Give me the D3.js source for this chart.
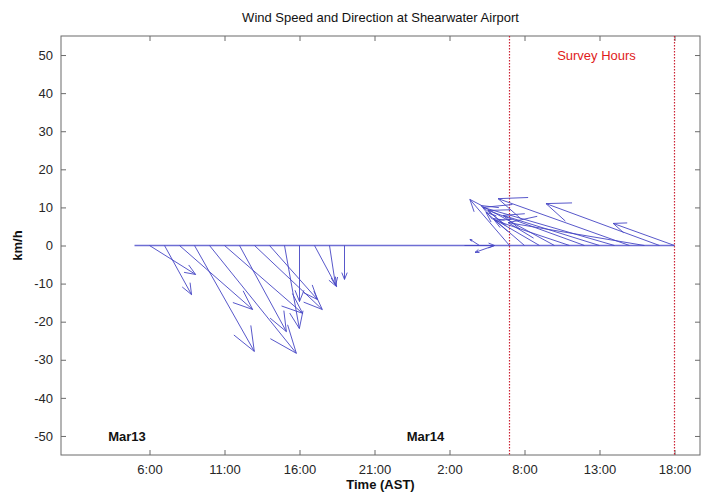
<!DOCTYPE html>
<html><head><meta charset="utf-8">
<script src="https://cdn.jsdelivr.net/npm/d3@7/dist/d3.min.js"></script>
<style>
body{margin:0;background:#fff}
svg{display:block}
text{font-family:"Liberation Sans",Arial,Helvetica,sans-serif}
</style>
</head><body>
<svg id="chart" width="706" height="494"></svg>
<script>
// ---- data (hours since Mar13 00:00; wind vector components in km/h) ----
const hours   = [5,6,7,8,9,10,11,12,13,14,15,16,17,18,19,20,21,22,23,24,25,26,27,28,29,30,31,32,33,34,35,36,37,38,39,40,41];
const uValues = [0,12.1,7.1,19.2,15.7,22.8,20.5,12.3,17.8,12.6,3.9,0,5.8,1.6,0,0,0,0,0,0,0,0,7.9,-2.5,-5.1,-10.4,-10.1,-12.2,-19.3,-19.6,-25.3,-25.3,-34.5,-34.5,-35.8,-29.8,-16.1];
const vValues = [0,-7.6,-12.9,-16.8,-27.8,-28.3,-17.8,-22.6,-16.8,-14.2,-21.8,-14.7,-10.8,-10.5,-8.9,0,0,0,0,0,0,0,0,1.6,-1.8,12.1,8.7,7.1,10.5,6.6,9.2,7.9,10.0,12.3,6.0,11.0,5.8];
const tickHours  = [6,11,16,21,26,31,36,41];
const tickLabels = ["6:00","11:00","16:00","21:00","2:00","8:00","13:00","18:00"];
const yTicks = [50,40,30,20,10,0,-10,-20,-30,-40,-50];
const surveyHours = [30,41];
const dayLabels = ["Mar13","Mar14"];
const dayLabelHours = [4.5,24.4];

// ---- layout ----
const L=61,R=700,T=36,B=455;
const svg=d3.select("#chart");
const x=d3.scaleLinear().domain([0.1,42.7]).range([L,R]);
const y=d3.scaleLinear().domain([-55,55]).range([B,T]);
const k=y(0)-y(1); // px per km/h (equal aspect for vectors)

// frame
svg.append("rect").attr("x",L).attr("y",T).attr("width",R-L).attr("height",B-T)
  .attr("fill","none").attr("stroke","#6b6b6b").attr("stroke-width",1);

// axes (ticks inward)
const axB=svg.append("g").attr("transform",`translate(0,${B})`)
  .call(d3.axisBottom(x).tickValues(tickHours).tickFormat((d,i)=>tickLabels[i]).tickSizeInner(-5).tickSizeOuter(0).tickPadding(10));
const axT=svg.append("g").attr("transform",`translate(0,${T})`)
  .call(d3.axisTop(x).tickValues(tickHours).tickFormat("").tickSizeInner(-5).tickSizeOuter(0));
const axLft=svg.append("g").attr("transform",`translate(${L},0)`)
  .call(d3.axisLeft(y).tickValues(yTicks).tickFormat(d=>String(d)).tickSizeInner(-5).tickSizeOuter(0).tickPadding(8));
const axRt=svg.append("g").attr("transform",`translate(${R},0)`)
  .call(d3.axisRight(y).tickValues(yTicks).tickFormat("").tickSizeInner(-5).tickSizeOuter(0));
[axB,axT,axLft,axRt].forEach(a=>{
  a.select(".domain").remove();
  a.selectAll(".tick line").attr("stroke","#6b6b6b");
  a.selectAll(".tick text").attr("fill","#262626").style("font-size","13px").style("font-family","'Liberation Sans',Arial,sans-serif");
});

// survey hour lines
svg.append("g").selectAll("line").data(surveyHours).join("line")
  .attr("x1",d=>x(d)).attr("x2",d=>x(d)).attr("y1",T).attr("y2",B)
  .attr("stroke","#cc2233").attr("stroke-width",1.2).attr("stroke-dasharray","1.5,1.5");
svg.append("text").attr("x",x(35.8)).attr("y",y(50)+5).attr("text-anchor","middle")
  .attr("fill","#e01b1b").style("font-size","13px").text("Survey Hours");

// baseline
const col="#4646c4";
svg.append("line").attr("x1",x(hours[0])).attr("x2",x(hours[hours.length-1]))
  .attr("y1",y(0)).attr("y2",y(0)).attr("stroke","#6e6ed4").attr("stroke-width",1.6);

// feather arrows (MATLAB feather head geometry)
const vecs=hours.map((h,i)=>({h,u:uValues[i],v:vValues[i]})).filter(d=>d.u!==0||d.v!==0);
svg.append("g").selectAll("path").data(vecs).join("path")
  .attr("d",d=>{
    const x0=x(d.h), y0=y(0);
    const dx=d.u*k, dy=y(d.v)-y(0);
    const tx=x0+dx, ty=y0+dy;
    const px=-dy, py=dx;
    const b1x=x0+0.8*dx+0.08*px, b1y=y0+0.8*dy+0.08*py;
    const b2x=x0+0.8*dx-0.08*px, b2y=y0+0.8*dy-0.08*py;
    return `M${x0},${y0}L${tx},${ty}M${b1x},${b1y}L${tx},${ty}L${b2x},${b2y}`;
  })
  .attr("fill","none").attr("stroke",col).attr("stroke-width",1).attr("stroke-opacity",0.9);

// day labels
svg.append("g").selectAll("text").data(dayLabels).join("text")
  .attr("x",(d,i)=>x(dayLabelHours[i])).attr("y",y(-50)+5).attr("text-anchor","middle")
  .attr("fill","#111").style("font-size","13px").style("font-weight","bold").text(d=>d);

// titles
svg.append("text").attr("x",(L+R)/2).attr("y",22).attr("text-anchor","middle")
  .attr("fill","#111").style("font-size","13px").text("Wind Speed and Direction at Shearwater Airport");
svg.append("text").attr("x",(L+R)/2).attr("y",489).attr("text-anchor","middle")
  .attr("fill","#111").style("font-size","13px").style("font-weight","bold").text("Time (AST)");
svg.append("text").attr("transform",`translate(22,${y(0)}) rotate(-90)`).attr("text-anchor","middle")
  .attr("fill","#111").style("font-size","13px").style("font-weight","bold").text("km/h");
</script>
</body></html>
